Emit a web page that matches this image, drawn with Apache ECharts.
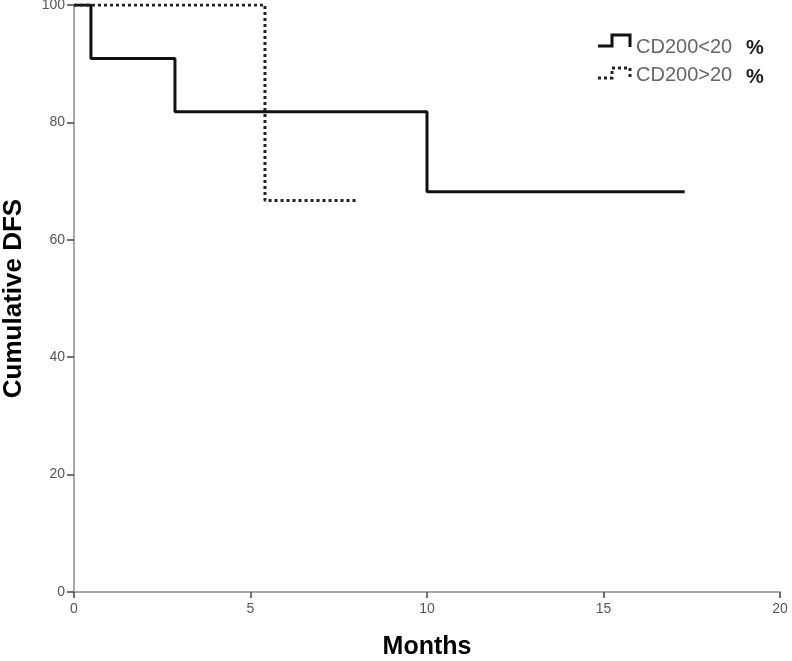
<!DOCTYPE html>
<html><head><meta charset="utf-8">
<script src="https://cdn.jsdelivr.net/npm/echarts@6/dist/echarts.min.js"></script>
<style>html,body{margin:0;padding:0;background:#fff}#c{width:792px;height:661px}</style>
</head><body><div id="c"></div>
<script>
// Data (step change points: [month, cumulative DFS %])
const seriesNames = ['CD200<20', 'CD200>20'];
const lowMonths = [0, 0.48, 2.86, 10.0, 17.3];
const lowDFS = [100, 90.9, 81.8, 68.2, 68.2];
const highMonths = [0, 5.41, 8.0];
const highDFS = [100, 66.7, 66.7];
const xTicks = [0, 5, 10, 15, 20];
const yTicks = [0, 20, 40, 60, 80, 100];

const chart = echarts.init(document.getElementById('c'));
const toPts = (xs, ys) => xs.map((x, i) => [x, ys[i]]);
const axisCol = '#a8a8a8';
const font = 'Liberation Sans, Arial';
chart.setOption({
  animation: false,
  backgroundColor: '#fff',
  grid: { left: 74, right: 12, top: 5, bottom: 69, containLabel: false, outerBoundsMode: 'none' },
  xAxis: {
    type: 'value', min: xTicks[0], max: xTicks[xTicks.length - 1], interval: 5,
    name: 'Months', nameLocation: 'middle', nameGap: 55,
    nameTextStyle: { fontFamily: font, fontWeight: 'bold', fontSize: 25, color: '#000', verticalAlign: 'middle' },
    axisLine: { show: true, lineStyle: { color: axisCol, width: 2 } },
    axisTick: { show: true, length: 6, lineStyle: { color: '#444', width: 1.5 } },
    axisLabel: { color: '#555', fontSize: 14, fontFamily: font, margin: 10 },
    splitLine: { show: false }
  },
  yAxis: {
    type: 'value', min: yTicks[0], max: yTicks[yTicks.length - 1], interval: 20,
    name: 'Cumulative DFS', nameLocation: 'middle', nameGap: 60, nameRotate: 90,
    nameTextStyle: { fontFamily: font, fontWeight: 'bold', fontSize: 26, color: '#000', verticalAlign: 'middle' },
    axisLine: { show: true, lineStyle: { color: axisCol, width: 2 } },
    axisTick: { show: true, length: 7, lineStyle: { color: '#444', width: 1.5 } },
    axisLabel: { color: '#555', fontSize: 14, fontFamily: font, margin: 9 },
    splitLine: { show: false }
  },
  series: [
    { name: seriesNames[0], type: 'line', step: 'end', data: toPts(lowMonths, lowDFS), showSymbol: false, symbol: 'none',
      lineStyle: { color: '#111', width: 3 }, z: 3 },
    { name: seriesNames[1], type: 'line', step: 'end', data: toPts(highMonths, highDFS), showSymbol: false, symbol: 'none',
      lineStyle: { color: '#222', width: 3, type: [3, 3] }, z: 4 }
  ],
  graphic: [
    { type: 'polyline', shape: { points: [[598, 46], [612, 46], [612, 35], [630, 35], [630, 47]] },
      style: { stroke: '#111', lineWidth: 3, fill: null } },
    { type: 'text', x: 636, y: 47, style: { text: seriesNames[0], fontSize: 20, fill: '#666', fontFamily: font, verticalAlign: 'middle' } },
    { type: 'text', x: 746, y: 48, style: { text: '%', fontSize: 20, fontWeight: 'bold', fill: '#1a1a1a', fontFamily: font, verticalAlign: 'middle' } },
    { type: 'polyline', shape: { points: [[598, 78], [612, 78], [612, 68], [630, 68], [630, 79]] },
      style: { stroke: '#222', lineWidth: 3, fill: null, lineDash: [3, 3] } },
    { type: 'text', x: 636, y: 75, style: { text: seriesNames[1], fontSize: 20, fill: '#666', fontFamily: font, verticalAlign: 'middle' } },
    { type: 'text', x: 746, y: 77, style: { text: '%', fontSize: 20, fontWeight: 'bold', fill: '#1a1a1a', fontFamily: font, verticalAlign: 'middle' } }
  ]
});
</script></body></html>
